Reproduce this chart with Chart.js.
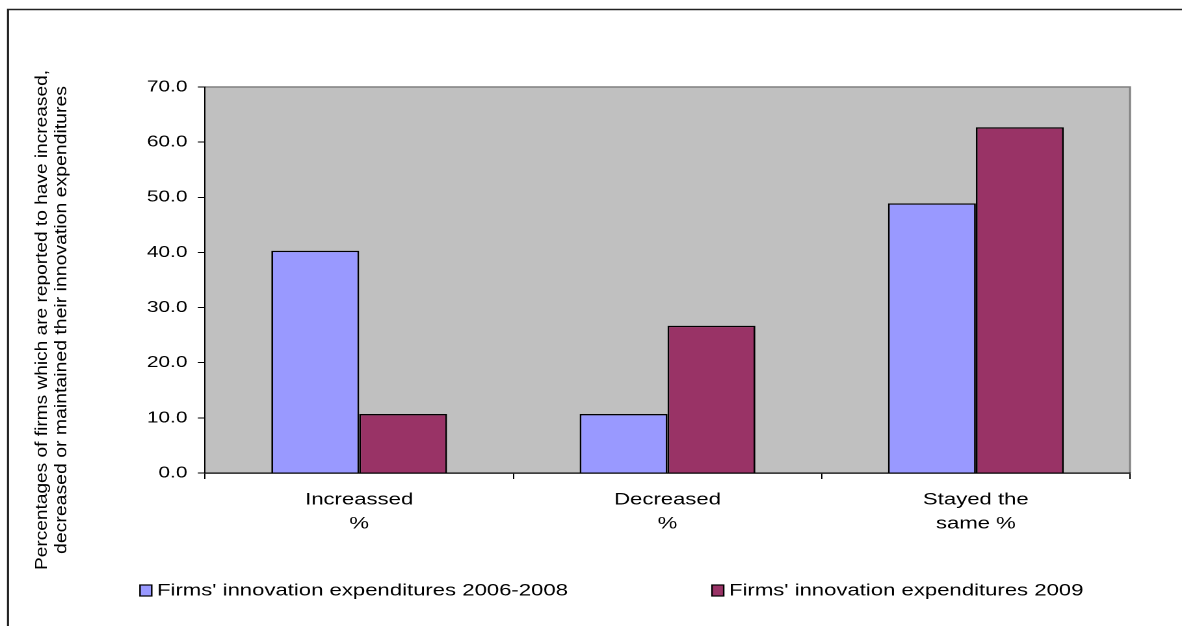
<!DOCTYPE html>
<html>
<head>
<meta charset="utf-8">
<script src="https://cdn.jsdelivr.net/npm/chart.js@4/dist/chart.umd.min.js"></script>
<style>
html,body{margin:0;padding:0;background:#fff;overflow:hidden;}
#wrap{width:1182px;height:626px;}
#c{display:block;width:1182px;height:626px;}
</style>
</head>
<body>
<div id="wrap"><canvas id="c" width="909" height="626" style="width:1182px;height:626px;"></canvas></div>
<script>
const categories = [['Increassed', '%'], ['Decreased', '%'], ['Stayed the', 'same %']];
const seriesNames = ["Firms' innovation expenditures 2006-2008", "Firms' innovation expenditures 2009"];
const values2006_2008 = [40.3, 10.7, 48.9];
const values2009 = [10.7, 26.7, 62.7];
const yTitleLines = ['Percentages of firms which are reported to have increased,', 'decreased or maintained their innovation expenditures'];
const yMin = 0, yMax = 70, yStep = 10;

const FONT = '"Liberation Sans", Arial, sans-serif';
// The reference picture is stretched horizontally; the chart is drawn on a narrower canvas shown at full width.
const CW = 909, CH = 626, S = 1182 / CW;
const sx = v => v / S;

const decor = {
  id: 'decor',
  beforeDraw(chart) {
    const ctx = chart.ctx, a = chart.chartArea;
    ctx.save();
    ctx.fillStyle = '#fff';
    ctx.fillRect(0, 0, chart.width, chart.height);
    // outer frame
    ctx.strokeStyle = '#222';
    ctx.lineWidth = 1.6;
    ctx.beginPath();
    ctx.moveTo(sx(8), chart.height + 5);
    ctx.lineTo(sx(8), 9.5);
    ctx.lineTo(chart.width + 5, 9.5);
    ctx.stroke();
    // plot area
    ctx.fillStyle = '#C0C0C0';
    ctx.fillRect(a.left, a.top, a.right - a.left, a.bottom - a.top);
    ctx.strokeStyle = '#808080';
    ctx.lineWidth = 1.5;
    ctx.beginPath();
    ctx.moveTo(a.left, a.top);
    ctx.lineTo(a.right, a.top);
    ctx.lineTo(a.right, a.bottom);
    ctx.stroke();
    ctx.restore();
  },
  afterDraw(chart) {
    const ctx = chart.ctx;
    ctx.save();
    // y title
    ctx.fillStyle = '#000';
    ctx.font = '12.5px ' + FONT;
    ctx.textAlign = 'center';
    ctx.textBaseline = 'middle';
    const xs = [sx(42), sx(62)];
    const lens = [500, 468];
    yTitleLines.forEach((t, i) => {
      const w = ctx.measureText(t).width;
      ctx.save();
      ctx.translate(xs[i], 320);
      ctx.rotate(-Math.PI / 2);
      ctx.scale(lens[i] / w, 1);
      ctx.fillText(t, 0, 0);
      ctx.restore();
    });
    // legend
    const items = chart.data.datasets;
    const boxX = [sx(140), sx(712)];
    ctx.font = '17px ' + FONT;
    ctx.textAlign = 'left';
    ctx.textBaseline = 'middle';
    items.forEach((ds, i) => {
      ctx.fillStyle = ds.backgroundColor;
      ctx.fillRect(boxX[i], 585, 9, 11);
      ctx.strokeStyle = '#000';
      ctx.lineWidth = 1.2;
      ctx.strokeRect(boxX[i], 585, 9, 11);
      ctx.fillStyle = '#000';
      ctx.fillText(ds.label, boxX[i] + sx(17), 591);
    });
    ctx.restore();
  }
};

new Chart(document.getElementById('c'), {
  type: 'bar',
  data: {
    labels: categories,
    datasets: [
      { label: seriesNames[0], data: values2006_2008, backgroundColor: '#9999FF', borderColor: '#000', borderWidth: 1.4, categoryPercentage: 0.57, barPercentage: 1.0 },
      { label: seriesNames[1], data: values2009, backgroundColor: '#993366', borderColor: '#000', borderWidth: 1.4, categoryPercentage: 0.57, barPercentage: 1.0 }
    ]
  },
  options: {
    responsive: false,
    animation: false,
    devicePixelRatio: 2,
    layout: { padding: { top: 87, right: CW - sx(1130), bottom: 0, left: 0 } },
    plugins: { legend: { display: false }, tooltip: { enabled: false }, title: { display: false } },
    scales: {
      x: {
        afterFit(s) { s.height = CH - 473; },
        grid: { display: true, drawOnChartArea: false, drawTicks: true, tickLength: 6, color: '#000', offset: true },
        border: { display: true, color: '#000', width: 1.2 },
        ticks: { color: '#000', font: { family: FONT, size: 17, lineHeight: 1.4 }, padding: 9, maxRotation: 0, autoSkip: false }
      },
      y: {
        min: yMin, max: yMax,
        afterFit(s) { s.width = sx(205); },
        grid: { display: true, drawOnChartArea: false, drawTicks: true, tickLength: 5.5, color: '#000' },
        border: { display: true, color: '#000', width: 1 },
        ticks: { stepSize: yStep, color: '#000', font: { family: FONT, size: 16 }, padding: 8, callback: v => v.toFixed(1) }
      }
    }
  },
  plugins: [decor]
});
</script>
</body>
</html>
